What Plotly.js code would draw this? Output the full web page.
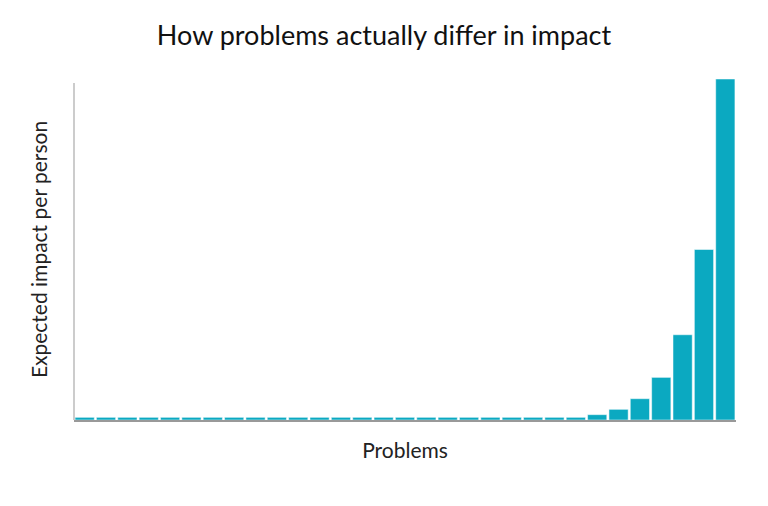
<!DOCTYPE html>
<html>
<head>
<meta charset="utf-8">
<script src="https://cdn.plot.ly/plotly-3.0.1.min.js"></script>
<style>
  html, body { margin: 0; padding: 0; background: #fff; }
  #chart { width: 768px; height: 506px; }
</style>
</head>
<body>
<div id="chart"></div>
<script>
// one bar per problem, impact per person (relative units)
var problems = [1, 2, 3, 4, 5, 6, 7, 8, 9, 10, 11, 12, 13, 14, 15, 16,
                17, 18, 19, 20, 21, 22, 23, 24, 25, 26, 27, 28, 29, 30, 31];
var impact = [1, 1, 1, 1, 1, 1, 1, 1, 1, 1, 1, 1, 1, 1, 1, 1,
              1, 1, 1, 1, 1, 1, 1, 1, 2, 4, 8, 16, 32, 64, 128];

var bars = {
    x: problems,
    y: impact,
    type: 'bar',
    marker: {
        color: '#0ba9c1',
        line: { color: '#ffffff', width: 0.5 }
    },
    hoverinfo: 'none'
};

var layout = {
    width: 768,
    height: 506,
    margin: { l: 74, r: 32, t: 79, b: 86 },
    paper_bgcolor: '#fff',
    plot_bgcolor: '#fff',
    showlegend: false,
    bargap: 0.1,
    font: { family: 'Lato, sans-serif', color: '#222' },
    title: {
        text: 'How problems actually differ in impact',
        font: { family: 'Lato, sans-serif', size: 27, color: '#111' },
        x: 0.5,
        xref: 'container',
        y: 0.93,
        yref: 'container',
        yanchor: 'middle'
    },
    xaxis: {
        range: [0.5, 31.5],
        showticklabels: false,
        ticks: '',
        showgrid: false,
        zeroline: false,
        showline: true,
        linecolor: '#999',
        linewidth: 1.5,
        title: {
            text: 'Problems',
            font: { family: 'Lato, sans-serif', size: 21, color: '#222' },
            standoff: 23
        }
    },
    yaxis: {
        range: [0, 128],
        showticklabels: false,
        ticks: '',
        showgrid: false,
        zeroline: false,
        showline: false,
        title: {
            text: 'Expected impact per person',
            font: { family: 'Lato, sans-serif', size: 21, color: '#222' },
            standoff: 19
        }
    },
    // left axis line stops a little below the tallest bar
    shapes: [{
        type: 'line', xref: 'paper', yref: 'y',
        x0: 0, x1: 0, y0: 0, y1: 126.5,
        line: { color: '#999', width: 1 }
    }]
};

Plotly.newPlot(document.getElementById('chart'), [bars], layout, { displayModeBar: false, staticPlot: true });
</script>
</body>
</html>
